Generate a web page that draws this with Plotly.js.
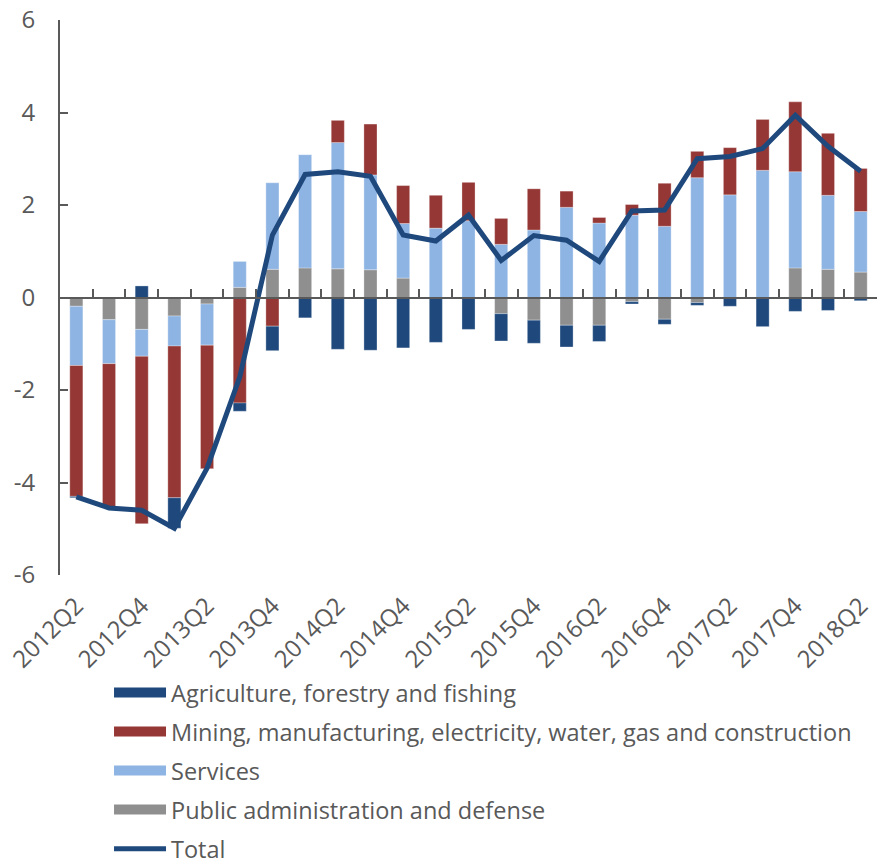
<!DOCTYPE html>
<html>
<head>
<meta charset="utf-8">
<script src="https://cdn.plot.ly/plotly-3.0.1.min.js"></script>
<style>html,body{margin:0;padding:0;background:#fff;}#chart{width:883px;height:864px;}</style>
</head>
<body>
<div id="chart"></div>
<script>
var quarters = ["2012Q2","2012Q3","2012Q4","2013Q1","2013Q2","2013Q3","2013Q4","2014Q1","2014Q2","2014Q3","2014Q4","2015Q1","2015Q2","2015Q3","2015Q4","2016Q1","2016Q2","2016Q3","2016Q4","2017Q1","2017Q2","2017Q3","2017Q4","2018Q1","2018Q2"];
var tickLabels = ["2012Q2","2012Q4","2013Q2","2013Q4","2014Q2","2014Q4","2015Q2","2015Q4","2016Q2","2016Q4","2017Q2","2017Q4","2018Q2"];
var yTickVals = [-6,-4,-2,0,2,4,6];
var yTickText = ["-6","-4","-2","0","2","4","6"];

var agriculture = [-0.03,0,0.25,-0.66,0,-0.18,-0.53,-0.44,-1.12,-1.14,-1.09,-0.97,-0.69,-0.59,-0.50,-0.47,-0.35,-0.05,-0.11,-0.06,-0.19,-0.63,-0.30,-0.28,-0.07];
var mining = [-2.83,-3.10,-3.62,-3.28,-2.67,-2.28,-0.62,0,0.48,1.10,0.82,0.71,0.83,0.56,0.89,0.35,0.12,0.23,0.93,0.57,1.02,1.10,1.51,1.34,0.93];
var services = [-1.28,-0.95,-0.58,-0.65,-0.89,0.56,1.87,2.45,2.73,2.05,1.18,1.50,1.66,1.15,1.46,1.95,1.61,1.78,1.54,2.59,2.22,2.75,2.08,1.60,1.31];
var publicAdmin = [-0.19,-0.48,-0.69,-0.40,-0.14,0.22,0.61,0.64,0.62,0.60,0.42,0,0,-0.35,-0.49,-0.60,-0.60,-0.09,-0.47,-0.11,0,0,0.64,0.61,0.55];
var total = [-4.31,-4.55,-4.60,-4.99,-3.69,-1.72,1.35,2.66,2.72,2.62,1.35,1.22,1.78,0.80,1.34,1.24,0.78,1.87,1.89,3.00,3.05,3.22,3.94,3.27,2.73];

var names = ["Agriculture, forestry and fishing","Mining, manufacturing, electricity, water, gas and construction","Services","Public administration and defense","Total"];
var colors = {agri:"#1F497D", mining:"#953735", services:"#8EB4E3", pub:"#8F8F8F", total:"#1F497D"};

var FONT = "'Open Sans', sans-serif";
var GREY = "#595959";
var edge = {color:"rgba(255,255,255,0.5)", width:0.6};

function barTrace(y, color, name){
  return {type:"bar", x:quarters, y:y, name:name, marker:{color:color, line:edge}, showlegend:false, hoverinfo:"x+y+name"};
}
function proxy(color, name, rank){
  return {type:"scatter", mode:"lines", x:[null], y:[null], name:name, legendgroup:"g"+rank, line:{color:color, width:17}, legendrank:rank, hoverinfo:"skip"};
}

var data = [
  barTrace(publicAdmin, colors.pub, names[3]),
  barTrace(services, colors.services, names[2]),
  barTrace(mining, colors.mining, names[1]),
  barTrace(agriculture, colors.agri, names[0]),
  {type:"scatter", mode:"lines", x:quarters, y:total, xaxis:"x2", name:names[4], legendgroup:"g5", line:{color:colors.total, width:5}, legendrank:5},
  proxy(colors.agri, names[0], 1),
  proxy(colors.mining, names[1], 2),
  proxy(colors.services, names[2], 3),
  proxy(colors.pub, names[3], 4)
];

var layout = {
  width:883, height:864,
  margin:{l:60, r:6, t:20, b:289, autoexpand:false},
  paper_bgcolor:"#ffffff", plot_bgcolor:"#ffffff",
  barmode:"relative", bargap:0.6,
  font:{family:FONT, color:GREY, size:24},
  showlegend:true,
  legend:{x:0.06, y:-0.1724, xanchor:"left", yanchor:"top", font:{family:FONT, size:23.5, color:GREY}, itemwidth:52, traceorder:"grouped", tracegroupgap:5.5, bgcolor:"rgba(0,0,0,0)"},
  xaxis:{type:"category", range:[-0.5,24.5], tickmode:"array", tickvals:tickLabels, ticktext:tickLabels, tickangle:-45,
         showline:false, ticks:"", showgrid:false, zeroline:false, tickfont:{family:FONT, size:24, color:GREY}, ticklabelstandoff:11, fixedrange:true},
  xaxis2:{type:"category", overlaying:"x", anchor:"free", position:0.5, side:"bottom", range:[-0.5,24.5],
          showline:true, linecolor:GREY, linewidth:2, ticks:"inside", ticklen:8, tickwidth:2, tickcolor:GREY,
          tickson:"boundaries", showticklabels:false, showgrid:false, zeroline:false, fixedrange:true},
  yaxis:{range:[-6,6], tickmode:"array", tickvals:yTickVals, ticktext:yTickText, showgrid:false, zeroline:false,
         showline:true, linecolor:GREY, linewidth:2, ticks:"inside", ticklen:8, tickwidth:2, tickcolor:GREY,
         tickfont:{family:FONT, size:24, color:GREY}, ticklabelstandoff:18, fixedrange:true}
};

Plotly.newPlot("chart", data, layout, {displayModeBar:false, staticPlot:true});
</script>
</body>
</html>
